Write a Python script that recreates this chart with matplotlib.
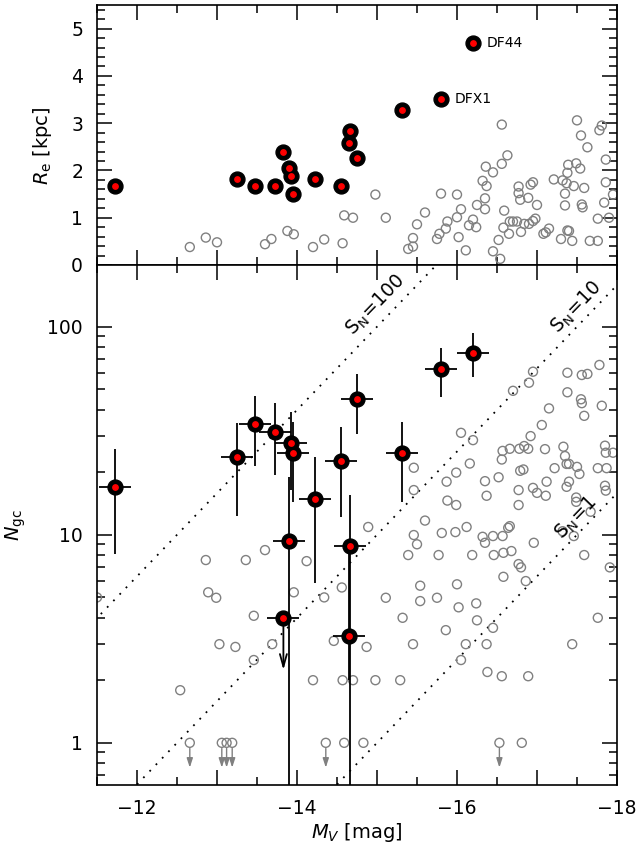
import numpy as np
import matplotlib
matplotlib.use("Agg")
import matplotlib.pyplot as plt
from matplotlib.ticker import FuncFormatter, MultipleLocator, LogLocator, NullFormatter

plt.rcParams['font.family'] = ['DejaVu Sans']
plt.rcParams['mathtext.fontset'] = 'dejavusans'

# ---------------- UDG sample (red points) ----------------
udg_mv = [-11.73, -13.25, -13.48, -13.73, -13.83, -13.90, -13.92, -13.95,
          -14.23, -14.55, -14.65, -14.66, -14.75, -15.31, -15.80, -16.20]
udg_re = [1.68, 1.82, 1.67, 1.68, 2.39, 2.05, 1.88, 1.51,
          1.82, 1.67, 2.59, 2.83, 2.27, 3.28, 3.52, 4.69]
udg_ngc = [16.9, 23.6, 34.1, 31.3, 4.0, 9.36, 27.7, 24.8,
           14.8, 22.7, 3.26, 8.85, 44.8, 24.6, 62.4, 75.0]
udg_ngc_low = [8.05, 12.3, 21.5, 19.4, 4.0, 0.3, 16.4, 14.4,
               5.84, 12.2, 2.0, 0.3, 30.5, 14.3, 45.8, 57.1]
udg_ngc_high = [25.8, 34.5, 46.4, 42.8, 4.0, 19.0, 38.8, 34.9,
                23.6, 33.1, 9.5, 15.6, 59.0, 34.9, 78.7, 93.0]
udg_mv_err = [0.2] * 16
udg_upper_limit = [False, False, False, False, True, False, False, False,
                   False, False, False, False, False, False, False, False]
udg_ul_tip = 2.24
named = [("DF44", -16.20, 4.69), ("DFX1", -15.80, 3.52)]

# ---------------- comparison sample, top panel (grey) ----------------
cmp_re_mv = [-12.66, -12.86, -13.00, -13.60, -13.68, -13.88, -13.96, -14.20, -14.34, -14.57,
             -14.59, -14.70, -14.98, -15.11, -15.39, -15.45, -15.45, -15.50, -15.60, -15.75,
             -15.78, -15.80, -15.86, -15.88, -16.00, -16.00, -16.02, -16.05, -16.11, -16.15,
             -16.20, -16.24, -16.25, -16.32, -16.35, -16.35, -16.36, -16.37, -16.45, -16.45,
             -16.52, -16.54, -16.56, -16.56, -16.58, -16.59, -16.63, -16.65, -16.66, -16.70,
             -16.75, -16.77, -16.77, -16.79, -16.80, -16.84, -16.89, -16.90, -16.92, -16.95,
             -16.95, -16.98, -17.00, -17.08, -17.11, -17.15, -17.21, -17.30, -17.32, -17.35,
             -17.35, -17.37, -17.38, -17.39, -17.38, -17.40, -17.44, -17.46, -17.50, -17.49,
             -17.54, -17.55, -17.56, -17.57, -17.59, -17.63, -17.66, -17.76, -17.76, -17.78,
             -17.81, -17.84, -17.86, -17.86, -17.90, -17.95]
cmp_re = [0.38, 0.58, 0.48, 0.44, 0.55, 0.72, 0.65, 0.38, 0.54, 0.46,
          1.05, 1.00, 1.49, 1.00, 0.34, 0.39, 0.57, 0.86, 1.11, 0.55,
          0.66, 1.51, 0.77, 0.92, 1.49, 1.01, 0.59, 1.18, 0.31, 0.84,
          0.96, 0.80, 1.27, 1.78, 1.18, 1.41, 2.08, 1.67, 1.96, 0.29,
          0.53, 0.13, 2.97, 2.14, 0.79, 1.15, 2.32, 0.66, 0.92, 0.92,
          0.92, 1.66, 1.52, 1.38, 0.70, 0.87, 1.42, 0.87, 1.70, 1.75,
          0.93, 0.98, 1.27, 0.66, 0.69, 0.77, 1.81, 0.55, 1.79, 1.51,
          1.26, 1.73, 1.95, 2.12, 0.73, 0.72, 0.51, 1.67, 3.06, 2.15,
          2.04, 2.74, 1.28, 1.22, 1.63, 2.49, 0.51, 0.51, 0.98, 2.85,
          2.95, 1.32, 1.75, 2.23, 1.00, 1.49]

# ---------------- comparison sample, bottom panel (grey) ----------------
cmp_ngc_mv = [-11.50, -12.86, -13.36, -13.60, -14.12, -12.89, -12.99, -13.96, -14.34, -13.46,
              -13.03, -13.23, -13.69, -13.46, -14.20, -12.54, -14.59, -14.83, -16.81,
              -14.57, -14.70, -14.98, -15.29, -16.38, -16.56, -16.89,
              -14.46, -14.87, -15.45, -16.05, -16.11, -16.37, -17.44,
              -15.86, -16.45, -15.32, -16.25, -17.76,
              -14.56, -15.11, -15.54, -15.54, -15.75, -16.00, -16.02, -16.24,
              -16.58, -16.77, -16.80, -16.86, -17.91,
              -15.39, -15.77, -16.19, -16.46, -16.58, -16.68, -17.59,
              -15.50, -16.35, -16.96,
              -14.89, -15.46, -15.60, -15.81, -15.98, -16.12, -16.32, -16.45, -16.57, -16.64,
              -16.66, -17.32, -17.46, -17.49, -17.49, -17.67, -17.85, -17.86,
              -15.46, -15.46, -15.87, -15.88, -15.99, -15.99, -16.05, -16.20, -16.16, -16.35,
              -16.37, -16.52, -16.56, -16.57, -16.66, -16.78, -16.84, -16.89, -16.79, -16.83,
              -16.77, -16.77, -16.92, -16.95, -17.00, -17.06, -17.10, -17.12, -17.11, -17.22,
              -17.15, -16.70, -16.90, -16.95, -17.38, -17.38, -17.56, -17.63, -17.78, -17.55,
              -17.56, -17.81, -17.59, -17.33, -17.35, -17.37, -17.40, -17.50, -17.53, -17.40,
              -17.37, -17.76, -17.87, -17.85, -17.86, -17.95]
cmp_ngc = [5.0, 7.56, 7.56, 8.44, 7.47, 5.29, 4.98, 5.29, 5.0, 4.08,
           2.98, 2.89, 2.98, 2.50, 2.0, 1.79, 1.0, 1.0, 1.0,
           2.0, 2.0, 2.0, 2.0, 2.19, 2.09, 2.09,
           3.09, 2.89, 2.98, 2.50, 2.98, 2.98, 2.98,
           3.48, 3.57, 3.99, 3.88, 3.99,
           5.58, 4.98, 5.69, 4.80, 4.98, 5.78, 4.48, 4.68,
           6.28, 7.23, 6.97, 5.99, 6.97,
           7.99, 7.99, 7.99, 7.99, 8.19, 8.35, 7.99,
           9.0, 9.15, 9.15,
           10.9, 9.97, 11.7, 10.2, 10.3, 10.9, 9.78, 9.86, 9.86, 10.8,
           11.0, 10.4, 9.86, 15.1, 14.4, 12.9, 17.2, 16.3,
           16.4, 21.0, 18.0, 14.6, 13.9, 19.9, 30.9, 28.5, 22.0, 18.1,
           15.4, 18.9, 23.0, 25.3, 25.9, 25.9, 26.7, 25.9, 20.3, 20.6,
           16.4, 13.9, 29.8, 16.8, 15.9, 33.7, 25.8, 18.0, 15.4, 20.9,
           40.5, 49.2, 53.8, 60.8, 60.1, 48.4, 58.6, 59.3, 65.5, 44.8,
           42.9, 41.7, 37.3, 26.5, 23.9, 21.9, 21.9, 21.2, 19.6, 18.0,
           17.0, 20.9, 20.9, 26.8, 24.8, 24.8]
# upper limits (N_gc <= 1)
cmp_ul_mv = [-12.66, -13.06, -13.12, -13.19, -14.36, -16.53]
cmp_ul_ngc = [1.0, 1.0, 1.0, 1.0, 1.0, 1.0]
cmp_ul_tip = 0.76

# specific frequency lines
sn_values = [100, 10, 1]
sn_labels = [r'$\mathrm{S_N\!=\!100}$', r'$\mathrm{S_N\!=\!10}$', r'$\mathrm{S_N\!=\!1}$']
sn_label_pos = [(-14.98, 127), (-17.50, 124), (-17.49, 12.0)]

GREY = '#808080'

fig = plt.figure(figsize=(6.44, 8.55), dpi=100)
ax1 = fig.add_axes([97/644, 1-265/855, 520/644, 260/855])
ax2 = fig.add_axes([97/644, 1-785/855, 520/644, 520/855])

xlim = (-11.5, -18.0)
for ax in (ax1, ax2):
    ax.set_xlim(*xlim)
    ax.tick_params(which='both', direction='in', top=True, right=True, width=1.1,
                   labelsize=13.5)
    ax.tick_params(which='major', length=11)
    ax.tick_params(which='minor', length=5.5)
    ax.tick_params(axis='y', which='major', pad=10)
    ax.tick_params(axis='x', which='major', pad=10)
    for s in ax.spines.values():
        s.set_linewidth(1.2)
    ax.xaxis.set_major_locator(MultipleLocator(1))
    ax.xaxis.set_minor_locator(MultipleLocator(0.5))

def xfmt(v, pos):
    iv = int(round(v))
    if iv % 2 == 0:
        return '\u2212%d' % abs(iv) if iv < 0 else '%d' % iv
    return ''

# ---------- top panel ----------
ax1.set_ylim(0, 5.5)
ax1.yaxis.set_major_locator(MultipleLocator(1))
ax1.yaxis.set_minor_locator(MultipleLocator(0.2))
ax1.xaxis.set_major_formatter(NullFormatter())
ax1.scatter(cmp_re_mv, cmp_re, s=42, facecolors='none', edgecolors=GREY, linewidths=1.0, zorder=2)
ax1.scatter(udg_mv, udg_re, s=115, color='black', zorder=4)
ax1.scatter(udg_mv, udg_re, s=15, color='red', zorder=5)
for name, mv, re in named:
    ax1.annotate(name, (mv, re), xytext=(10, 0), textcoords='offset points',
                 ha='left', va='center', fontsize=10)
ax1.set_ylabel(r'$R_{\rm e}$ [kpc]', fontsize=14)
ax1.yaxis.set_label_coords(-0.082, 0.46)

# ---------- bottom panel ----------
ax2.set_yscale('log')
ax2.set_ylim(0.627, 198)
ax2.yaxis.set_major_locator(LogLocator(base=10, subs=(1.0,)))
ax2.yaxis.set_minor_locator(LogLocator(base=10, subs=np.arange(2, 10)))
ax2.yaxis.set_major_formatter(FuncFormatter(lambda v, p: '%d' % round(v)))
ax2.yaxis.set_minor_formatter(NullFormatter())
ax2.xaxis.set_major_formatter(FuncFormatter(xfmt))

xx = np.linspace(-11.0, -18.5, 50)
for sn, lab, (lx, ly) in zip(sn_values, sn_labels, sn_label_pos):
    ax2.plot(xx, sn * 10 ** (-0.4 * (xx + 15)), color='black', lw=1.3,
             linestyle=(0, (1, 4)), zorder=1)
    ax2.text(lx, ly, lab, rotation=46, ha='center', va='center', fontsize=13.5,
             rotation_mode='anchor')

ax2.scatter(cmp_ngc_mv, cmp_ngc, s=42, facecolors='none', edgecolors=GREY, linewidths=1.0, zorder=2)
ax2.scatter(cmp_ul_mv, cmp_ul_ngc, s=42, facecolors='none', edgecolors=GREY, linewidths=1.0, zorder=2)
for mv, n in zip(cmp_ul_mv, cmp_ul_ngc):
    ax2.annotate('', xy=(mv, cmp_ul_tip), xytext=(mv, n * 0.94),
                 arrowprops=dict(arrowstyle='-|>,head_length=0.55,head_width=0.18',
                                 color=GREY, lw=1.0, shrinkA=0, shrinkB=0), zorder=2)

mv = np.array(udg_mv)
ng = np.array(udg_ngc)
lo = ng - np.array(udg_ngc_low)
hi = np.array(udg_ngc_high) - ng
ax2.errorbar(mv, ng, yerr=[lo, hi], xerr=udg_mv_err, fmt='none', ecolor='black',
             elinewidth=1.3, capsize=0, zorder=3)
for m, n, ul in zip(udg_mv, udg_ngc, udg_upper_limit):
    if ul:
        ax2.annotate('', xy=(m, udg_ul_tip), xytext=(m, n),
                     arrowprops=dict(arrowstyle='->,head_length=0.9,head_width=0.25',
                                     color='black', lw=1.3, shrinkA=0, shrinkB=0), zorder=3)
ax2.scatter(udg_mv, udg_ngc, s=115, color='black', zorder=4)
ax2.scatter(udg_mv, udg_ngc, s=15, color='red', zorder=5)

ax2.set_ylabel(r'$N_{\rm gc}$', fontsize=14)
ax2.yaxis.set_label_coords(-0.133, 0.5)
ax2.set_xlabel(r'$M_V$ [mag]', fontsize=14, labelpad=2)

fig.savefig('out.png', dpi=100)
